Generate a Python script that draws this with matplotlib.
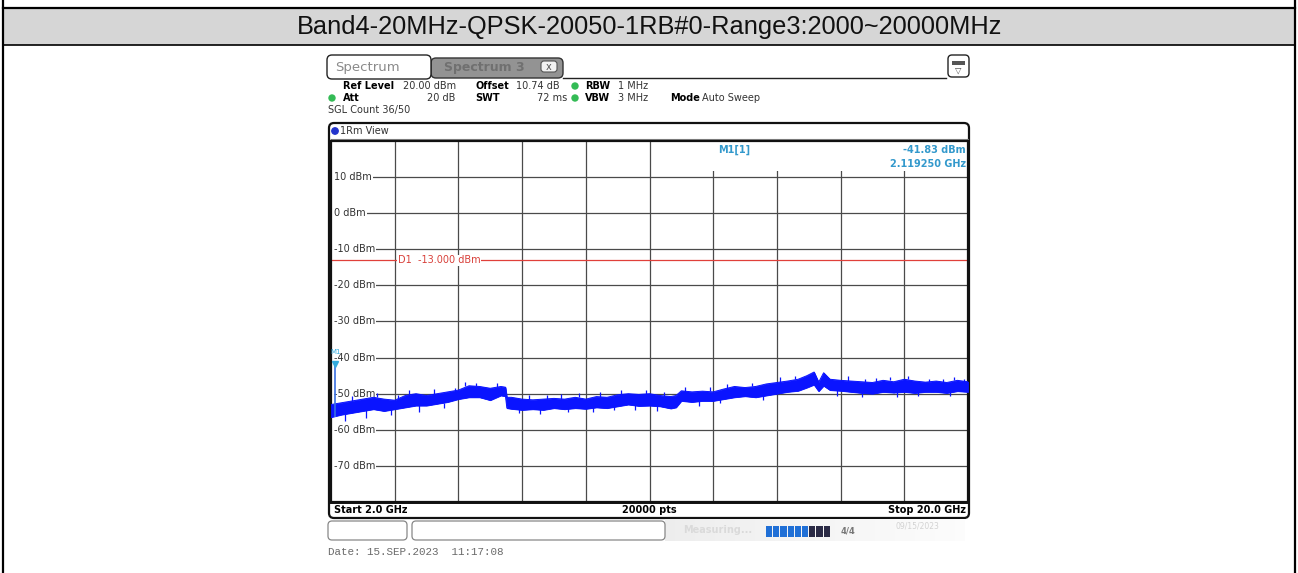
import matplotlib
matplotlib.use("Agg")
import matplotlib.pyplot as plt
from matplotlib.patches import FancyBboxPatch, Rectangle, Circle
import numpy as np

# ---------------- data ----------------
title = "Band4-20MHz-QPSK-20050-1RB#0-Range3:2000~20000MHz"
y_ticks = [10, 0, -10, -20, -30, -40, -50, -60, -70]
x_start_ghz, x_stop_ghz = 2.0, 20.0
y_ref, y_bottom = 20.0, -80.0
limit_d1 = -13.0
marker_freq, marker_level = 2.119250, -41.83

trace_freq = [2.0, 2.3, 2.6, 2.9, 3.2, 3.5, 3.8, 4.1, 4.4, 4.7, 5.0, 5.3, 5.6, 5.9,
              6.2, 6.5, 6.8, 6.93, 6.97, 7.1, 7.4, 7.7, 8.0, 8.3, 8.6, 8.9, 9.2, 9.5,
              9.8, 10.1, 10.4, 10.7, 11.0, 11.3, 11.6, 11.75, 11.9, 12.2, 12.5, 12.8,
              13.1, 13.4, 13.7, 14.0, 14.3, 14.6, 14.9, 15.2, 15.45, 15.65, 15.78,
              15.92, 16.1, 16.4, 16.7, 17.0, 17.3, 17.6, 17.9, 18.2, 18.5, 18.8,
              19.1, 19.4, 19.7, 20.0]
trace_upper = [-53.0, -52.5, -52.0, -51.5, -51.0, -51.5, -51.8, -50.5, -50.0, -50.5,
               -50.0, -49.5, -49.0, -47.8, -48.0, -48.5, -48.0, -48.2, -51.0, -51.0,
               -51.5, -51.7, -51.5, -51.3, -51.5, -51.0, -51.5, -50.8, -51.0, -50.3,
               -50.0, -50.2, -50.0, -50.5, -50.8, -50.5, -49.2, -49.5, -49.3, -49.5,
               -48.7, -48.0, -48.3, -48.0, -47.3, -46.9, -46.5, -46.0, -45.0, -44.0,
               -46.8, -44.2, -46.0, -46.3, -46.5, -46.7, -46.9, -46.3, -46.7, -46.0,
               -46.5, -46.8, -46.5, -46.9, -46.3, -46.7]
trace_lower = [-56.5, -55.8, -55.3, -54.8, -54.3, -54.8, -54.3, -53.8, -53.3, -53.3,
               -52.8, -52.3, -51.5, -51.0, -51.0, -51.8, -50.5, -50.7, -54.0, -54.2,
               -54.5, -54.3, -54.5, -54.0, -54.3, -54.0, -54.2, -53.8, -54.0, -53.5,
               -53.0, -53.4, -53.3, -53.5, -54.1, -53.8, -52.0, -52.3, -52.0, -52.0,
               -51.5, -51.0, -50.7, -51.0, -50.5, -50.0, -49.5, -49.2, -48.3, -47.5,
               -49.3, -47.8, -49.0, -49.2, -49.5, -49.8, -50.0, -49.5, -49.7, -49.5,
               -49.8, -49.5, -49.5, -49.8, -49.3, -49.5]
spike_freq = [2.6, 3.3, 3.9, 4.2, 4.9, 5.5, 5.8, 6.1, 6.7, 7.6, 8.1, 8.5, 9.0, 9.6,
              10.2, 10.9, 11.4, 12.0, 12.7, 13.2, 13.9, 14.7, 15.1, 16.6, 17.1, 17.4,
              17.8, 18.3, 18.9, 19.3, 19.6, 19.9]
spike_top = [-50.5, -49.8, -50.4, -49.0, -48.8, -48.3, -46.8, -47.1, -47.0, -50.3,
             -50.3, -50.0, -49.8, -49.5, -49.0, -49.0, -49.5, -48.2, -48.1, -47.3,
             -47.0, -45.5, -45.2, -45.2, -45.9, -45.7, -45.4, -45.0, -45.8, -45.8,
             -45.4, -45.9]
spike_base = [-52.0, -51.0, -51.8, -50.5, -50.0, -49.5, -48.0, -48.0, -48.2, -51.7,
              -51.5, -51.5, -51.0, -50.8, -50.3, -50.0, -50.5, -49.5, -49.3, -48.7,
              -48.0, -46.9, -46.0, -46.5, -46.7, -46.9, -46.3, -46.0, -46.8, -46.9,
              -46.3, -46.7]
dip_freq = [2.4, 3.0, 3.7, 4.5, 5.2, 7.3, 7.9, 8.7, 9.4, 10.0, 10.6, 11.2, 12.4,
            13.0, 14.2, 16.3, 17.0, 18.0, 18.6, 19.5]
dip_bottom = [-57.6, -56.6, -56.0, -55.0, -54.0, -55.4, -55.5, -55.0, -55.1, -54.5,
              -54.5, -54.7, -53.3, -52.5, -51.8, -50.5, -51.0, -50.8, -50.5, -50.7]
dip_base = [-55.0, -54.5, -54.0, -53.0, -52.5, -54.0, -54.0, -53.8, -53.8, -53.2,
            -53.0, -53.2, -51.8, -51.3, -50.3, -49.0, -49.6, -49.3, -49.3, -49.2]

W, H = 1298, 573
fig = plt.figure(figsize=(W / 100, H / 100), dpi=100)
fig.patch.set_facecolor("white")

# ---------------- overlay (pixel coordinates) ----------------
ov = fig.add_axes([0, 0, 1, 1])
ov.set_xlim(0, W)
ov.set_ylim(H, 0)
ov.axis("off")

# table / header
ov.add_patch(Rectangle((3, 8), 1292, 37, facecolor="#d6d6d6", edgecolor="none"))
ov.plot([3, 1295], [7.5, 7.5], color="black", lw=1.6)
ov.plot([3, 1295], [45, 45], color="black", lw=1.2)
ov.plot([3, 3], [0, H], color="black", lw=1.6)
ov.plot([1295, 1295], [0, H], color="black", lw=1.6)
ov.text(650, 27, title, ha="center", va="center", fontsize=18.3,
        family="Liberation Sans", color="#111111")

# tabs
ov.add_patch(FancyBboxPatch((431, 58), 132, 20, boxstyle="round,pad=0,rounding_size=5",
                            facecolor="#939393", edgecolor="#333333", lw=1.0))
ov.add_patch(FancyBboxPatch((327, 55), 104, 24, boxstyle="round,pad=0,rounding_size=5",
                            facecolor="white", edgecolor="#222222", lw=1.0))
ov.text(335, 67, "Spectrum", fontsize=9.5, color="#8a8a8a", va="center", ha="left")
ov.text(444, 68, "Spectrum 3", fontsize=9, color="#707070", va="center", ha="left",
        weight="bold")
ov.add_patch(FancyBboxPatch((541, 61), 16, 11, boxstyle="round,pad=0,rounding_size=3",
                            facecolor="#f2f2f2", edgecolor="#555555", lw=0.8))
ov.text(549, 66.5, "x", fontsize=7, color="#555555", ha="center", va="center")
ov.plot([563, 946], [78, 78], color="#222222", lw=1.0)
ov.add_patch(FancyBboxPatch((948, 55), 21, 22, boxstyle="round,pad=0,rounding_size=4",
                            facecolor="white", edgecolor="#222222", lw=1.0))
ov.add_patch(Rectangle((952, 61), 13, 4, facecolor="#555555", edgecolor="none"))
ov.text(958.5, 70, "\u25bd", fontsize=6, ha="center", va="center", color="#444444")

# info lines
fs = 7
y1, y2, y3 = 86, 98, 110
ov.text(343, y1, "Ref Level", fontsize=fs, weight="bold", va="center")
ov.text(403, y1, "20.00 dBm", fontsize=fs, va="center", color="#333333")
ov.text(475, y1, "Offset", fontsize=fs, weight="bold", va="center")
ov.text(516, y1, "10.74 dB", fontsize=fs, va="center", color="#333333")
ov.add_patch(Circle((575, y1), 3, color="#33bb55"))
ov.text(585, y1, "RBW", fontsize=fs, weight="bold", va="center")
ov.text(618, y1, "1 MHz", fontsize=fs, va="center", color="#333333")
ov.add_patch(Circle((332, y2), 3, color="#33bb55"))
ov.text(343, y2, "Att", fontsize=fs, weight="bold", va="center")
ov.text(455, y2, "20 dB", fontsize=fs, va="center", ha="right", color="#333333")
ov.text(475, y2, "SWT", fontsize=fs, weight="bold", va="center")
ov.text(567, y2, "72 ms", fontsize=fs, va="center", ha="right", color="#333333")
ov.add_patch(Circle((575, y2), 3, color="#33bb55"))
ov.text(585, y2, "VBW", fontsize=fs, weight="bold", va="center")
ov.text(618, y2, "3 MHz", fontsize=fs, va="center", color="#333333")
ov.text(670, y2, "Mode", fontsize=fs, weight="bold", va="center")
ov.text(702, y2, "Auto Sweep", fontsize=fs, va="center", color="#333333")
ov.text(328, y3, "SGL Count 36/50", fontsize=fs, va="center", color="#333333")

# screen frame
ov.add_patch(FancyBboxPatch((329, 123), 640, 395, boxstyle="round,pad=0,rounding_size=5",
                            facecolor="white", edgecolor="#111111", lw=1.6))
ov.plot([331, 968], [139, 139], color="#888888", lw=0.8)
ov.add_patch(Circle((335, 131), 3.2, color="#2233cc"))
ov.text(340, 131, "1Rm View", fontsize=fs, va="center", color="#333333")
ov.plot([331, 968], [502.5, 502.5], color="#111111", lw=1.4)
ov.text(334, 510, "Start 2.0 GHz", fontsize=7, weight="bold", va="center")
ov.text(649, 510, "20000 pts", fontsize=7, weight="bold", va="center", ha="center")
ov.text(966, 510, "Stop 20.0 GHz", fontsize=7, weight="bold", va="center", ha="right")

# status bar
for k in range(30):
    ov.add_patch(Rectangle((665 + k * 10, 519), 10, 22,
                           facecolor=(0.93 + 0.002 * k,) * 3, edgecolor="none"))
ov.add_patch(FancyBboxPatch((328, 521), 79, 19, boxstyle="round,pad=0,rounding_size=4",
                            facecolor="white", edgecolor="#888888", lw=0.9))
ov.add_patch(FancyBboxPatch((412, 521), 253, 19, boxstyle="round,pad=0,rounding_size=4",
                            facecolor="white", edgecolor="#888888", lw=0.9))
ov.text(683, 530, "Measuring...", fontsize=7, color="#dadada", va="center", weight="bold")
for k in range(9):
    col = "#1f6fd6" if k < 6 else "#2a2a45"
    ov.add_patch(Rectangle((766 + k * 7.2, 526), 6.2, 11, facecolor=col, edgecolor="none"))
ov.text(848, 531, "4/4", fontsize=6, color="#777777", va="center", ha="center", weight="bold")
ov.text(895, 526, "09/15/2023", fontsize=5.5, color="#d2d2d2", va="center")
ov.text(328, 552, "Date: 15.SEP.2023  11:17:08", fontsize=7.8, family="Liberation Mono",
        color="#6a6a6a", va="center")

# ---------------- data axes ----------------
left, right, top, bottom = 331, 968, 141, 502
ax = fig.add_axes([left / W, 1 - bottom / H, (right - left) / W, (bottom - top) / H])
ax.set_xlim(x_start_ghz, x_stop_ghz)
ax.set_ylim(y_bottom, y_ref)
ax.set_facecolor("white")
ax.set_xticks([x_start_ghz + (x_stop_ghz - x_start_ghz) / 10 * k for k in range(1, 10)])
ax.set_yticks(y_ticks)
ax.tick_params(length=0, labelbottom=False, labelleft=False)
ax.set_axisbelow(True)
ax.grid(True, color="#4a4a4a", lw=0.9)
for s in ax.spines.values():
    s.set_color("#111111")
    s.set_linewidth(1.6)

# blank area behind marker readout
ax.add_patch(Rectangle((0.506, 0.918), 0.494, 0.082, transform=ax.transAxes,
                       facecolor="white", edgecolor="none", zorder=1))
ax.text(0.607, 0.975, "M1[1]", transform=ax.transAxes, fontsize=7, color="#3399cc",
        weight="bold", va="center", zorder=4)
ax.text(0.997, 0.975, "-41.83 dBm", transform=ax.transAxes, fontsize=7, color="#3399cc",
        weight="bold", va="center", ha="right", zorder=4)
ax.text(0.997, 0.937, "2.119250 GHz", transform=ax.transAxes, fontsize=7, color="#3399cc",
        weight="bold", va="center", ha="right", zorder=4)

# y labels (white box hides the grid line under the text)
ytr = ax.get_yaxis_transform()
for v in y_ticks:
    ax.add_patch(Rectangle((0.0, v - 1.6), 0.005, 3.2, transform=ytr,
                           facecolor="white", edgecolor="none", zorder=1.5))
    ax.text(0.005, v, f"{v} dBm", transform=ytr, fontsize=7,
            color="#333333", va="center", ha="left", zorder=2,
            bbox=dict(facecolor="white", edgecolor="none", pad=0.6))

# display line D1
ax.axhline(limit_d1, color="#e0403a", lw=0.9, zorder=2)
ax.text(0.105, limit_d1, "D1  -13.000 dBm", transform=ytr,
        fontsize=7, color="#d8403a", va="center", ha="left", zorder=2.5,
        bbox=dict(facecolor="white", edgecolor="none", pad=0.4))

# trace
blue = "#0a14ff"
ax.fill_between(trace_freq, trace_lower, trace_upper, color=blue, lw=0.6, zorder=3)
ax.plot(trace_freq, trace_upper, color=blue, lw=0.7, zorder=3)
ax.plot(trace_freq, trace_lower, color=blue, lw=0.7, zorder=3)
ax.vlines(spike_freq, spike_base, spike_top, color=blue, lw=0.9, zorder=3)
ax.vlines(dip_freq, dip_base, dip_bottom, color=blue, lw=0.9, zorder=3)
ax.vlines([marker_freq], [trace_lower[0]], [marker_level], color="#3a6fe0", lw=1.2, zorder=3)
ax.plot([marker_freq], [marker_level], marker="v", color="#33aadd", ms=5, zorder=4)
ax.text(marker_freq, marker_level + 2.6, "M1", fontsize=5, color="#33aadd",
        ha="center", va="bottom", zorder=4)

fig.savefig("out.png", dpi=100)
